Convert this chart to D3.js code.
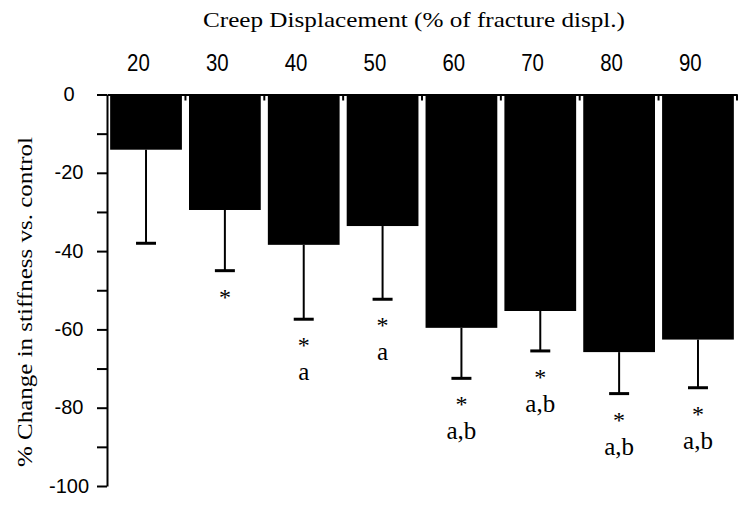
<!DOCTYPE html>
<html>
<head>
<meta charset="utf-8">
<script src="https://cdn.jsdelivr.net/npm/d3@7"></script>
<style>
  body { margin: 0; background: #fff; }
  text { fill: #000; }
</style>
</head>
<body>
<div id="chart"></div>
<script>
// creep displacement levels and the stiffness change
const categories = ["20", "30", "40", "50", "60", "70", "80", "90"];
const meanChange = [-14.1, -29.5, -38.4, -33.6, -59.6, -55.3, -65.8, -62.6];
const errorLow = [-38.0, -45.0, -57.4, -52.3, -72.5, -65.5, -76.4, -74.9];
const starMarks = ["", "*", "*", "*", "*", "*", "*", "*"];
const letterMarks = ["", "", "a", "a", "a,b", "a,b", "a,b", "a,b"];
const yTicks = [0, -10, -20, -30, -40, -50, -60, -70, -80, -90, -100];

const width = 750, height = 507;

const svg = d3.select('#chart').append('svg')
    .attr('width', width)
    .attr('height', height);

const x = d3.scaleBand()
    .domain(categories)
    .range([107, 737])
    .paddingInner(0.09)
    .paddingOuter(0.04);

const y = d3.scaleLinear()
    .domain([0, -100])
    .range([94.5, 486]);

// bars hang down from the zero line
svg.append('g').selectAll('rect')
    .data(categories)
    .join('rect')
    .attr('x', d => x(d))
    .attr('width', x.bandwidth())
    .attr('y', y(0))
    .attr('height', (d, i) => y(meanChange[i]) - y(0))
    .attr('fill', '#000');

// error bars
const cx = d => x(d) + x.bandwidth() / 2;
svg.append('g').selectAll('line')
    .data(categories)
    .join('line')
    .attr('x1', cx).attr('x2', cx)
    .attr('y1', (d, i) => y(meanChange[i]))
    .attr('y2', (d, i) => y(errorLow[i]))
    .attr('stroke', '#000')
    .attr('stroke-width', 2);

svg.append('g').selectAll('line')
    .data(categories)
    .join('line')
    .attr('x1', d => cx(d) - 10).attr('x2', d => cx(d) + 10)
    .attr('y1', (d, i) => y(errorLow[i]))
    .attr('y2', (d, i) => y(errorLow[i]))
    .attr('stroke', '#000')
    .attr('stroke-width', 3);

// significance marks under the caps
const markFont = '"Liberation Serif", "DejaVu Serif", serif';
svg.append('g').selectAll('text')
    .data(categories)
    .join('text')
    .attr('x', cx)
    .attr('y', (d, i) => y(errorLow[i]) + 34)
    .attr('text-anchor', 'middle')
    .attr('font-family', markFont)
    .attr('font-size', 24)
    .text((d, i) => starMarks[i]);

svg.append('g').selectAll('text')
    .data(categories)
    .join('text')
    .attr('x', cx)
    .attr('y', (d, i) => y(errorLow[i]) + 61)
    .attr('text-anchor', 'middle')
    .attr('font-family', markFont)
    .attr('font-size', 25)
    .text((d, i) => letterMarks[i]);

// top category axis, labels float well above the line
const numFont = '"Liberation Sans Narrow", "Liberation Sans", Arial, sans-serif';
const xAxis = svg.append('g')
    .attr('transform', `translate(0,${y(0)})`)
    .call(d3.axisTop(x).tickSize(0).tickSizeOuter(0).tickPadding(24));
xAxis.selectAll('text')
    .attr('font-family', numFont)
    .attr('font-size', 24)
    .attr('dx', -9)
    .attr('transform', 'scale(0.85,1)');
xAxis.select('.domain').attr('stroke-width', 2);

// little ticks at the band boundaries
const bounds = categories.map(d => x(d) - x.step() * x.paddingInner() / 2).concat([737]);
svg.append('g').selectAll('line')
    .data(bounds.slice(1))
    .join('line')
    .attr('x1', d => d).attr('x2', d => d)
    .attr('y1', y(0)).attr('y2', y(0) + 6)
    .attr('stroke', '#000')
    .attr('stroke-width', 2);

// left value axis
const yAxis = svg.append('g')
    .attr('transform', 'translate(107,0)')
    .call(d3.axisLeft(y).tickValues(yTicks).tickSize(10).tickSizeOuter(0)
        .tickFormat(d => d % 20 === 0 ? d : ''));
yAxis.selectAll('text')
    .attr('font-family', numFont)
    .attr('font-size', 20)
    .attr('text-anchor', 'middle')
    .attr('x', -38)
    .attr('dy', '0.3em');
yAxis.selectAll('line').attr('stroke-width', 2);
yAxis.select('.domain').attr('stroke-width', 2);

// titles
svg.append('text')
    .attr('x', 414)
    .attr('y', 27)
    .attr('text-anchor', 'middle')
    .attr('font-family', markFont)
    .attr('font-size', 22)
    .attr('textLength', 422)
    .attr('lengthAdjust', 'spacingAndGlyphs')
    .text('Creep Displacement (% of fracture displ.)');

svg.append('text')
    .attr('transform', 'translate(32,302) rotate(-90)')
    .attr('text-anchor', 'middle')
    .attr('font-family', markFont)
    .attr('font-size', 22)
    .attr('textLength', 330)
    .attr('lengthAdjust', 'spacingAndGlyphs')
    .text('% Change in stiffness vs. control');
</script>
</body>
</html>
